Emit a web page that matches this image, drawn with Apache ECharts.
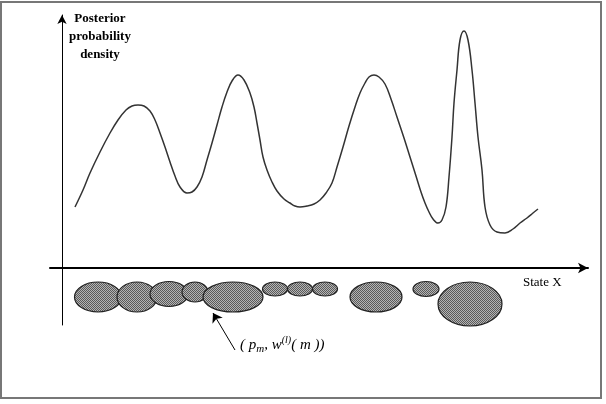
<!DOCTYPE html>
<html>
<head>
<meta charset="utf-8">
<script src="https://cdn.jsdelivr.net/npm/echarts@6/dist/echarts.min.js"></script>
<style>html,body{margin:0;padding:0;background:#fff}#c{width:606px;height:404px}</style>
</head>
<body>
<div id="c"></div>
<script>
// Posterior density curve: state X (horizontal), density (vertical)
const stateX = [13,21,28,38,48,56,64,70,76,82,88,93,98,103,108,113,118,125,130,135,140,145,150,155,160,165,170,176,182,188,192,195,198,201,205,210,215,222,228,233,238,245,252,258,264,270,275,281,287,293,298,303,307,312,317,323,329,335,342,348,354,359,363,367,371,376,380,384,387,390,392,395,398,402,406,410,413,416,420,423,428,435,443,451,458,465,471,476];
const density = [61,78,95,116,135,148,158,162,163,162,157,148,135,121,106,92,81,75,76,81,91,108,125,143,161,176,187,193,188,175,161,145,128,111,98,86,77,69,65,62,61,62,64,68,75,85,101,121,142,161,175,185,191,193,191,184,169,151,130,111,92,76,65,56,49,45,48,61,91,131,165,198,228,237,228,198,165,131,98,61,43,36,35,39,45,50,55,59];
// Particle ellipses (p_m, w(m)): centre x, centre y, half-width, half-height
const partX  = [36, 75, 107, 133, 171, 213, 238, 263, 314, 364, 408];
const partY  = [-29, -29, -26, -24, -29, -21, -21, -21, -29, -21, -36];
const partRx = [23.5, 20, 19, 13, 30, 12.5, 12.5, 12.5, 26, 13, 32];
const partRy = [15, 15, 12.5, 10, 15, 7, 7, 7, 15, 7.5, 22];
const arrowFrom = [173, -82];
const arrowTo = [151, -45];

const pat = document.createElement('canvas');
pat.width = 2; pat.height = 2;
const pc = pat.getContext('2d');
pc.fillStyle = '#b4b4b4'; pc.fillRect(0,0,2,2);
pc.fillStyle = '#5a5a5a'; pc.fillRect(0,0,1,1); pc.fillRect(1,1,1,1);

const chart = echarts.init(document.getElementById('c'), null, {renderer: 'canvas'});
const ellipseData = partX.map((x, i) => [x, partY[i], partRx[i], partRy[i]]);
const serif = '"Liberation Serif", "Times New Roman", serif';
chart.setOption({
  animation: false,
  grid: {left: 50, right: 18, top: 15, bottom: 79},
  xAxis: {
    type: 'value', min: -12, max: 526,
    axisLine: {onZero: true, lineStyle: {color: '#000', width: 2}, symbol: ['none', 'arrow'], symbolSize: [8, 10]},
    axisTick: {show: false}, axisLabel: {show: false}, splitLine: {show: false}
  },
  yAxis: {
    type: 'value', min: -57, max: 253,
    axisLine: {show: true, onZero: true, lineStyle: {color: '#000', width: 1}, symbol: ['none', 'arrow'], symbolSize: [7, 9]},
    axisTick: {show: false}, axisLabel: {show: false}, splitLine: {show: false}
  },
  graphic: [
    {type: 'rect', shape: {x: 1, y: 2, width: 600, height: 396}, style: {fill: 'none', stroke: '#777', lineWidth: 2}, silent: true},
    {type: 'text', x: 100, y: 10, style: {text: 'Posterior\nprobability\ndensity', font: 'bold 13px ' + serif, fill: '#000', align: 'center', lineHeight: 18}},
    {type: 'text', x: 523, y: 276, style: {text: 'State X', font: '13px ' + serif, fill: '#000'}},
    {type: 'text', x: 240, y: 335, style: {
      text: '{n|( }{i|p}{s|m}{n|, }{i|w}{u|(l)}{i|( m ))}',
      rich: {
        n: {font: 'italic 15px ' + serif, fill: '#000', lineHeight: 20},
        i: {font: 'italic 15px ' + serif, fill: '#000', lineHeight: 20},
        s: {font: 'italic 11px ' + serif, fill: '#000', verticalAlign: 'bottom', lineHeight: 20},
        u: {font: 'italic 10px ' + serif, fill: '#000', verticalAlign: 'top', lineHeight: 20}
      }
    }}
  ],
  series: [
    {
      type: 'line', data: stateX.map((x, i) => [x, density[i]]), smooth: 0.4, showSymbol: false, clip: false,
      lineStyle: {color: '#333', width: 1.5}
    },
    {
      type: 'custom', data: ellipseData, clip: false,
      renderItem: function (params, api) {
        const c = api.coord([api.value(0), api.value(1)]);
        const s = api.size([api.value(2), api.value(3)]);
        return {
          type: 'ellipse',
          shape: {cx: c[0], cy: c[1], rx: s[0], ry: s[1]},
          style: {fill: {image: pat, repeat: 'repeat'}, stroke: '#222', lineWidth: 1.2}
        };
      }
    },
    {
      type: 'lines', coordinateSystem: 'cartesian2d', clip: false,
      symbol: ['none', 'arrow'], symbolSize: 9,
      lineStyle: {color: '#000', width: 1, opacity: 1},
      data: [{coords: [arrowFrom, arrowTo]}]
    }
  ]
});
</script>
</body>
</html>
